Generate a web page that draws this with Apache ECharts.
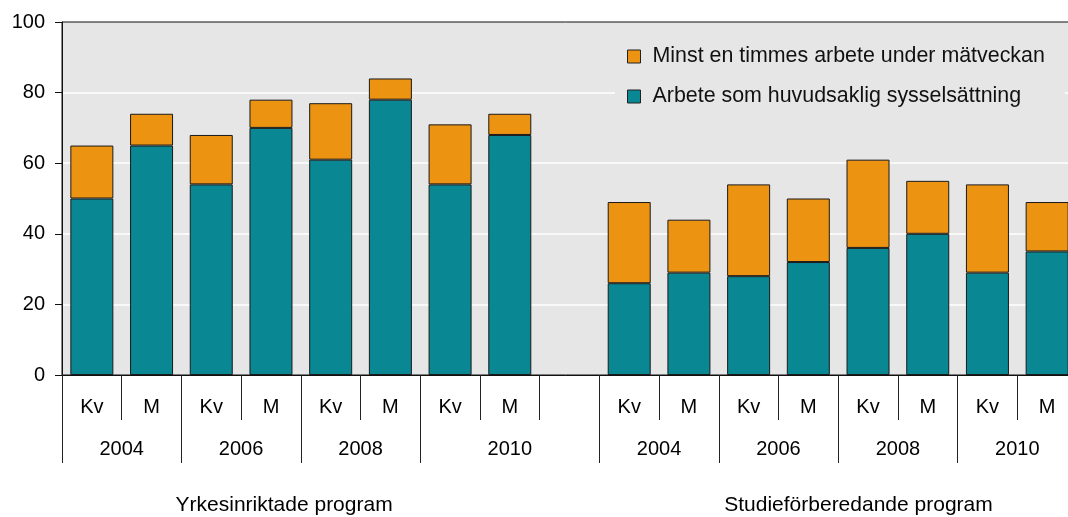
<!DOCTYPE html>
<html>
<head>
<meta charset="utf-8">
<script src="https://cdn.jsdelivr.net/npm/echarts@6/dist/echarts.min.js"></script>
<style>
  html, body { margin: 0; padding: 0; background: #fff; }
  #chart { width: 1068px; height: 517px; }
</style>
</head>
<body>
<div id="chart"></div>
<script>
// categories: Kv/M per year, empty slot separates the two programmes
const categories = ["Kv", "M", "Kv", "M", "Kv", "M", "Kv", "M", "",
  "Kv", "M", "Kv", "M", "Kv", "M", "Kv", "M"];
const years = ["2004", "2006", "2008", "2010", "2004", "2006", "2008", "2010"];
const yearLabelPos = [1, 3, 5, 7.5, 10, 12, 14, 16];
const yearTickPos = [0, 2, 4, 6, 9, 11, 13, 15];
const groups = ["Yrkesinriktade program", "Studieförberedande program"];
const groupLabelPos = [3.72, 13.34];

// main occupation (bottom, teal)
const huvud = [50, 65, 54, 70, 61, 78, 54, 68, "-",
  26, 29, 28, 32, 36, 40, 29, 35];
// at least one hour of work (top, orange) = total - main
const minst = [15, 9, 14, 8, 16, 6, 17, 6, "-",
  23, 15, 26, 18, 25, 15, 25, 14];

const nameHuvud = "Arbete som huvudsaklig sysselsättning";
const nameMinst = "Minst en timmes arbete under mätveckan";

const font = "Liberation Sans, Arial, sans-serif";
const chart = echarts.init(document.getElementById("chart"));

const option = {
  animation: false,
  textStyle: { fontFamily: font, color: "#000" },
  grid: {
    left: 62, top: 22, right: -9, bottom: 142,
    outerBoundsMode: "none",
    containLabel: false,
    show: true, backgroundColor: "#e6e6e6",
    borderColor: "#111", borderWidth: 1,
  },
  legend: {
    orient: "vertical",
    left: 615, top: 32,
    padding: [14, 20, 14, 12],
    backgroundColor: "#e6e6e6",
    itemWidth: 13, itemHeight: 13, itemGap: 19,
    icon: "rect",
    itemStyle: { borderColor: "#222", borderWidth: 1 },
    textStyle: { fontSize: 21.4, color: "#111", fontFamily: font, padding: [0, 0, 0, 7] },
    data: [nameMinst, nameHuvud],
  },
  xAxis: [
    {
      type: "category",
      data: categories,
      position: "bottom",
      z: 5,
      axisLine: { show: true, lineStyle: { color: "#111", width: 1 } },
      axisTick: { show: true, interval: 0, length: 45, lineStyle: { color: "#222" } },
      axisLabel: { interval: 0, margin: 22, fontSize: 20, color: "#000", fontFamily: font },
    },
    {
      type: "value", min: 0, max: 17,
      position: "bottom",
      axisLine: { show: false },
      splitLine: { show: false },
      axisTick: { show: true, length: 88, customValues: yearTickPos, lineStyle: { color: "#222" } },
      axisLabel: {
        customValues: yearLabelPos, margin: 64, fontSize: 20, color: "#000", fontFamily: font,
        formatter: (v) => years[yearLabelPos.indexOf(v)] || "",
      },
    },
    {
      type: "value", min: 0, max: 17,
      position: "bottom",
      axisLine: { show: false },
      splitLine: { show: false },
      axisTick: { show: false },
      axisLabel: {
        customValues: groupLabelPos, margin: 120, fontSize: 21, color: "#000", fontFamily: font,
        formatter: (v) => groups[groupLabelPos.indexOf(v)] || "",
      },
    },
  ],
  yAxis: {
    type: "value", min: 0, max: 100, interval: 20,
    axisLine: { show: true, lineStyle: { color: "#111" } },
    axisTick: { show: true, length: 7, lineStyle: { color: "#111" } },
    axisLabel: { margin: 17, fontSize: 20, color: "#000", fontFamily: font },
    splitLine: { showMinLine: false, showMaxLine: false, lineStyle: { color: "#fff", width: 1.5 } },
  },
  series: [
    {
      name: nameHuvud, type: "bar", stack: "a", xAxisIndex: 0,
      barWidth: 43, data: huvud,
      itemStyle: { color: "#098793", borderColor: "#1a1a1a", borderWidth: 1 },
    },
    {
      name: nameMinst, type: "bar", stack: "a", xAxisIndex: 0,
      barWidth: 43, data: minst,
      itemStyle: { color: "#ec9312", borderColor: "#1a1a1a", borderWidth: 1 },
    },
  ],
};

chart.setOption(option);
</script>
</body>
</html>
